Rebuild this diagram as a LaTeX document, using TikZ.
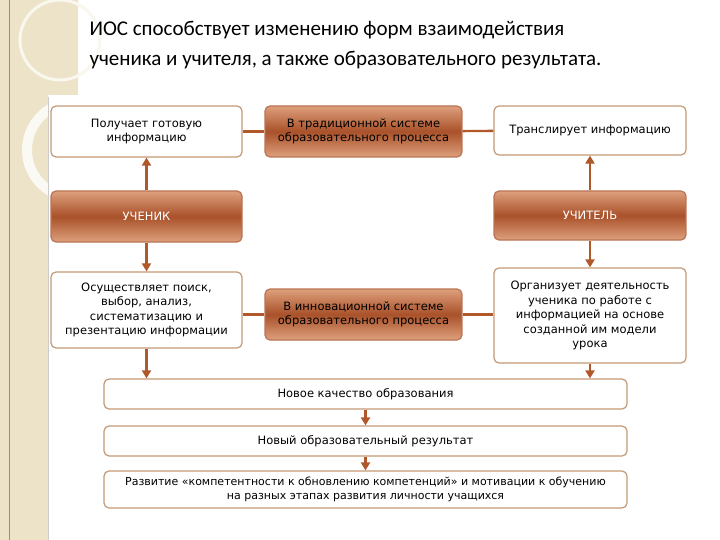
\documentclass[tikz,border=0pt]{standalone}
\usepackage{fontspec}
\setmainfont{DejaVu Sans}
\newfontfamily\titlefont{Carlito}
\usetikzlibrary{arrows.meta}
\definecolor{beige}{HTML}{EDE3C9}
\definecolor{brd}{HTML}{C49A74}
\definecolor{arr}{HTML}{B0582A}
\definecolor{bdark}{HTML}{A9512A}
\definecolor{blight}{HTML}{DDA07C}
\tikzset{
 wbox/.style={draw=brd,line width=1.2pt,rounded corners=5pt,fill=white,align=center,font=\fontsize{11.5}{14.5}\selectfont},
 bbox/.style={draw=bdark!80,line width=1.2pt,rounded corners=5pt,top color=blight,bottom color=blight,middle color=bdark,align=center,font=\fontsize{11.5}{14.5}\selectfont},
 conn/.style={draw=arr,line width=2.4pt},
 ar/.style={conn,-{Triangle[length=8pt,width=9pt]}},
}
\begin{document}
\begin{tikzpicture}[x=1pt,y=-1pt]
\useasboundingbox (0,0) rectangle (720,540);
\fill[white] (0,0) rectangle (720,540);
\fill[beige] (0,0) -- (78,0) -- (78,95) -- (48,95) -- (48,540) -- (0,540) -- cycle;
\draw[brown!50!black!60,line width=1pt] (9,0) -- (9,540);
\draw[white!80!beige,line width=10pt] (75,150) circle (48);
\draw[white!70!beige,line width=3pt] (60,40) circle (40);
\fill[white] (48,97) rectangle (720,540);
\draw[gray!40] (48,97) -- (48,540);
\node[anchor=west,font=\titlefont\fontsize{21}{24}\selectfont] (t1) at (86,30) {ИОС способствует изменению форм взаимодействия};
\node[anchor=west,font=\titlefont\fontsize{21}{24}\selectfont] (t2) at (86,60) {ученика и учителя, а также образовательного результата.};

\node[wbox,minimum width=191,minimum height=51] (a) at (146.5,131.5) {Получает готовую\\информацию};
\node[bbox,minimum width=197,minimum height=51] (b) at (363.5,131.5) {В традиционной системе\\образовательного процесса};
\node[wbox,minimum width=192,minimum height=49] (c) at (590,130.5) {Транслирует информацию};
\node[bbox,minimum width=191,minimum height=51,text=white] (u) at (146.5,216.5) {УЧЕНИК};
\node[bbox,minimum width=192,minimum height=49,text=white] (t) at (590,215.5) {УЧИТЕЛЬ};
\node[wbox,minimum width=191,minimum height=76] (d) at (146.5,310) {Осуществляет поиск,\\выбор, анализ,\\систематизацию и\\презентацию информации};
\node[bbox,minimum width=197,minimum height=51] (e) at (363.5,314.5) {В инновационной системе\\образовательного процесса};
\node[wbox,minimum width=192,minimum height=95] (f) at (590,315.5) {Организует деятельность\\ученика по работе с\\информацией на основе\\созданной им модели\\урока};
\node[wbox,minimum width=523,minimum height=30] (g) at (365.5,394) {Новое качество образования};
\node[wbox,minimum width=523,minimum height=30] (h) at (365.5,441) {Новый образовательный результат};
\node[wbox,minimum width=523,minimum height=37,font=\fontsize{11}{13.5}\selectfont] (i) at (365.5,489.5) {Развитие «компетентности к обновлению компетенций» и мотивации к обучению\\на разных этапах развития личности учащихся};

\draw[conn] (a) -- (b); \draw[conn] (b) -- (c);
\draw[conn] (d.east|-e) -- (e); \draw[conn] (e) -- (f.west|-e);
\draw[ar] (u.north) -- (a.south);
\draw[ar] (t.north) -- (c.south);
\draw[ar] (u.south) -- (d.north);
\draw[ar] (t.south) -- (f.north);
\draw[ar] (d.south) -- (d.south|-g.north);
\draw[ar] (f.south) -- (f.south|-g.north);
\draw[ar] (g.south) -- (h.north);
\draw[ar] (h.south) -- (i.north);
\end{tikzpicture}
\end{document}
